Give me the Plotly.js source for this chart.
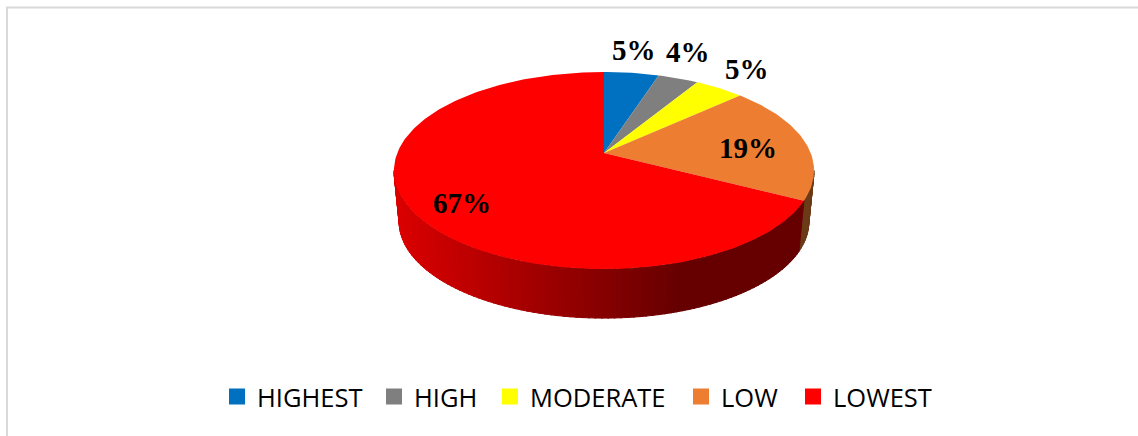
<!DOCTYPE html>
<html>
<head>
<meta charset="utf-8">
<script src="https://cdn.plot.ly/plotly-3.0.1.min.js"></script>
<style>html,body{margin:0;padding:0;background:#fff}</style>
</head>
<body>
<div id="chart" style="width:1138px;height:436px"></div>
<script>
var categories = ["HIGHEST", "HIGH", "MODERATE", "LOW", "LOWEST"];
var shares = [5.0, 3.7, 4.5, 19.4, 67.4];
var colors = ["#0070c0", "#7f7f7f", "#ffff00", "#ed7d31", "#ff0000"];

// View of the tilted disc
var CX = 604, CY = 153, A = 206.7, B = 95.4, K = 0.1777, DROP = 52, SHRINK = 0.975;
var labelX = [634, 688, 747, 748, 462];
var labelY = [50, 52, 69, 148, 203];
var legendX = [217, 374, 490, 681, 793];

function rim(deg, lower) {
  var t = deg * Math.PI / 180, u = Math.sin(t), v = Math.cos(t), d = 1 + K * v;
  var dx = A * u / d, dy = -B * v / d;
  return lower ? [CX + SHRINK * dx, CY + DROP + SHRINK * dy] : [CX + dx, CY + dy];
}

function wall(a0, a1, color) {
  var p0 = rim(a0), p1 = rim(a1), q1 = rim(a1, true), q0 = rim(a0, true);
  return {
    x: [p0[0], p1[0], q1[0], q0[0], p0[0]], y: [p0[1], p1[1], q1[1], q0[1], p0[1]],
    mode: "lines", fill: "toself", fillcolor: color, line: {color: color, width: 1},
    hoverinfo: "skip", showlegend: false
  };
}

var traces = [];
var edges = [0];
shares.forEach(function (s, i) { edges.push(edges[i] + s * 3.6); });
var silhouetteR = 90 + Math.asin(K) * 180 / Math.PI, silhouetteL = 360 - silhouetteR;

// side wall
var step = 1.5, a;
for (a = silhouetteR; a < edges[4]; a += step) {
  traces.push(wall(a, Math.min(a + step + 0.3, edges[4]), "#6b3a17"));
}
for (a = edges[4]; a < silhouetteL; a += step) {
  var xm = rim(a + step / 2)[0];
  var r = Math.round(Math.max(102, Math.min(218, 218 - (xm - 396) * 116 / 284)));
  traces.push(wall(a, Math.min(a + step + 0.3, silhouetteL), "rgb(" + r + ",0,0)"));
}

// top face
shares.forEach(function (s, i) {
  var xs = [CX], ys = [CY], n = Math.max(4, Math.ceil(s * 3.6)), j;
  for (j = 0; j <= n; j++) {
    var p = rim(edges[i] + (edges[i + 1] - edges[i]) * j / n);
    xs.push(p[0]); ys.push(p[1]);
  }
  xs.push(CX); ys.push(CY);
  traces.push({x: xs, y: ys, mode: "lines", fill: "toself", fillcolor: colors[i],
    line: {color: colors[i], width: 0}, hoverinfo: "skip", showlegend: false});
});

var layout = {
  width: 1138, height: 436,
  margin: {l: 0, r: 0, t: 0, b: 0},
  paper_bgcolor: "#fff", plot_bgcolor: "#fff",
  xaxis: {range: [0, 1138], visible: false, fixedrange: true},
  yaxis: {range: [436, 0], visible: false, fixedrange: true},
  annotations: shares.map(function (s, i) {
    return {x: labelX[i], y: labelY[i], xref: "x", yref: "y", showarrow: false,
      text: "<b>" + Math.round(s) + "%</b>",
      font: {family: "Liberation Serif", size: 29, color: "#000"}};
  }),
  shapes: [
    {type: "line", xref: "x", yref: "y", x0: 6, x1: 1138, y0: 7.5, y1: 7.5, line: {color: "#d9d9d9", width: 2}},
    {type: "line", xref: "x", yref: "y", x0: 7, x1: 7, y0: 7, y1: 436, line: {color: "#d9d9d9", width: 2}}
  ]
};

// legend entries: one small legend per category, so each keeps its own place
categories.forEach(function (c, i) {
  var key = i === 0 ? "legend" : "legend" + (i + 1);
  traces.push({x: [null], y: [null], mode: "markers", name: c, legend: key, showlegend: true,
    marker: {symbol: "square", size: 16, color: colors[i]}, hoverinfo: "skip"});
  layout[key] = {x: legendX[i] / 1138, xanchor: "left", y: 1 - 397 / 436, yanchor: "middle",
    font: {family: "Open Sans", size: 25.5, color: "#000"}, bgcolor: "rgba(0,0,0,0)"};
});

Plotly.newPlot("chart", traces, layout, {displayModeBar: false, staticPlot: true});
</script>
</body>
</html>
